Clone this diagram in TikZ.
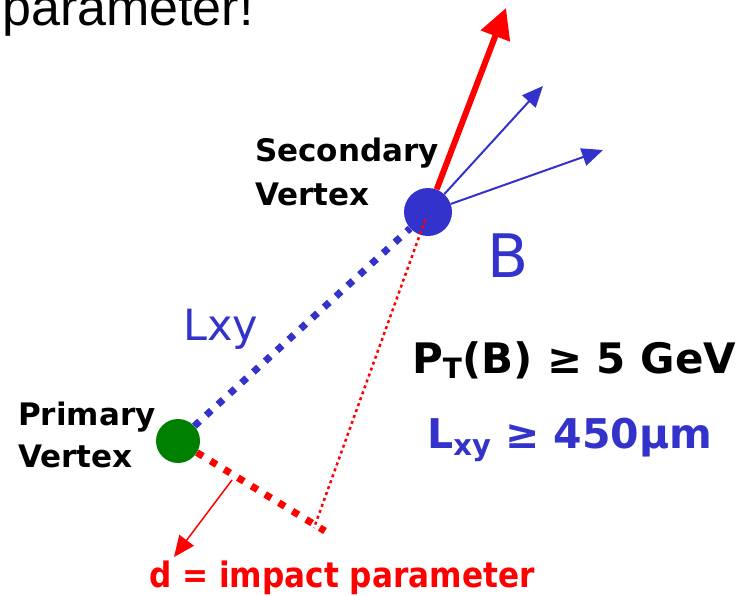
\documentclass[tikz,border=0pt]{standalone}
\usepackage{fontspec}
\setmainfont{DejaVu Sans}
\newfontfamily\arialfont{Liberation Sans}
\newfontfamily\reddfont[FakeStretch=0.89]{DejaVu Sans}
\usetikzlibrary{arrows.meta}
\definecolor{vblue}{RGB}{51,51,204}
\definecolor{vgreen}{RGB}{0,128,0}
\newcommand{\fsz}[1]{\fontsize{#1}{#1}\selectfont}

\begin{document}
\begin{tikzpicture}[x=1pt,y=-1pt,
  vtx/.style={circle,inner sep=0pt},
  txt/.style={anchor=base west,inner sep=0pt},
  fatdots/.style={line width=7pt,dash pattern=on 7pt off 9pt},
  thindots/.style={line width=2.5pt,dash pattern=on 3pt off 3.3pt},
  track/.style={-{Triangle[length=21pt,width=18pt]}}]
  \useasboundingbox (0,0) rectangle (738,595);
  % vertices
  \node[vtx,fill=vblue,minimum size=48pt] (sv) at (428,212) {};
  \node[vtx,fill=vgreen,minimum size=44pt] (pv) at (178,441) {};
  \coordinate (btip) at (506,8);
  \coordinate (trk1) at (543,86);
  \coordinate (trk2) at (603,150);
  \coordinate (foot) at (314,528);
  \coordinate (dend) at (325,531);
  \coordinate (dfrom) at (232,480);
  \coordinate (dtip) at (174,557);
  % flight path and impact parameter
  \draw[fatdots,vblue] (pv) -- (sv);
  \draw[fatdots,red] (pv) -- (dend);
  \draw[thindots,red,shorten <=8pt] (sv.center) -- (foot);
  % tracks
  \draw[red,line width=6pt,-{Triangle[length=30pt,width=30pt]}] (sv) -- (btip);
  \draw[vblue,line width=2pt,track] (sv) -- (trk1);
  \draw[vblue,line width=2pt,track] (sv) -- (trk2);
  \draw[red,line width=1.5pt,track] (dfrom) -- (dtip);
  % texts
  \node[txt] (title) at (2,25) {\arialfont\fsz{52}parameter!};
  \node[txt,font=\bfseries] (sec1) at (255,161) {\fsz{31}Secondary};
  \node[txt,font=\bfseries] (sec2) at (255,205) {\fsz{31}Vertex};
  \node[txt,font=\bfseries] (pri1) at (18,425) {\fsz{31}Primary};
  \node[txt,font=\bfseries] (pri2) at (18,467) {\fsz{31}Vertex};
  \node[txt,text=vblue] (blabel) at (487,277) {\fsz{60}B};
  \node[txt,text=vblue] (lxy) at (183,340) {\fsz{43}Lxy};
  \node[txt,font=\bfseries] (ptcut) at (412,373)
    {\fsz{42}P\raisebox{-5pt}{\fsz{28}T}(B) ≥ 5 GeV};
  \node[txt,font=\bfseries,text=vblue] (lxycut) at (427,448)
    {\fsz{41}L\raisebox{-7pt}{\fsz{29}xy} ≥ 450μm};
  \node[txt,text=red] (dlabel) at (149,587)
    {\reddfont\bfseries\fsz{35}d = impact parameter};
\end{tikzpicture}
\end{document}
